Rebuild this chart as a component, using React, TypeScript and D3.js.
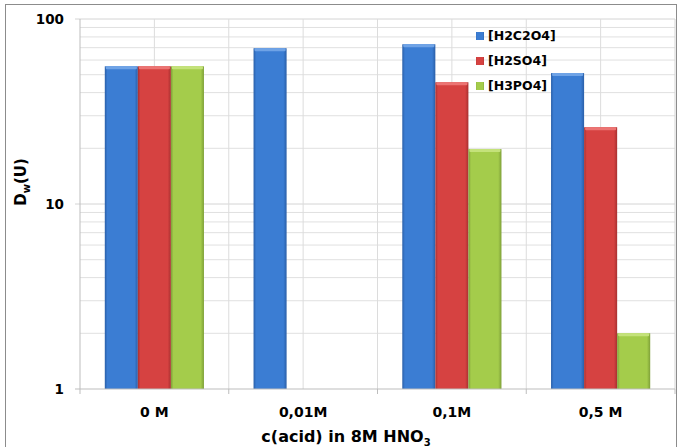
import React from "react";
import * as d3 from "d3";

const categories = ["0 M", "0,01M", "0,1M", "0,5 M"];
const seriesNames = ["[H2C2O4]", "[H2SO4]", "[H3PO4]"];
const h2c2o4 = [55.5, 69.5, 73, 51];
const h2so4 = [55.5, null, 45.5, 26];
const h3po4 = [55.5, null, 19.8, 2.0];
const yTicks = [1, 10, 100];

const colors = ["#3b7dd3", "#d64241", "#a4cc4b"];
const darks = ["#2a5fa8", "#a83030", "#7ea038"];
const lights = ["#6fa3e6", "#ec7473", "#c4e27a"];

const W = 679;
const H = 447;
const left = 80;
const right = 675;
const top = 19;
const bottom = 389;

export default function App() {
  const values = [h2c2o4, h2so4, h3po4];
  const x0 = d3.scaleBand<string>().domain(categories).range([left, right]).padding(0);
  const x1 = d3
    .scaleBand<string>()
    .domain(seriesNames)
    .range([0, x0.bandwidth()])
    .paddingInner(0)
    .paddingOuter(0.75);
  const y = d3.scaleLog().domain([1, 100]).range([bottom, top]);

  const minor: number[] = [];
  [1, 10].forEach((dec) => {
    for (let k = 2; k <= 9; k++) minor.push(k * dec);
  });

  const vGrid: number[] = [];
  categories.forEach((c, i) => {
    vGrid.push(x0(c)! + x0.bandwidth() / 2);
    if (i > 0) vGrid.push(x0(c)!);
  });

  const font = "'DejaVu Sans', Arial, sans-serif";

  return (
    <svg width={W} height={H} style={{ position: "absolute", left: 0, top: 0, background: "#fff" }}>
      <defs>
        {colors.map((c, i) => (
          <linearGradient key={i} id={`g${i}`} x1="0" x2="1" y1="0" y2="0">
            <stop offset="0%" stopColor={darks[i]} />
            <stop offset="8%" stopColor={c} />
            <stop offset="45%" stopColor={c} />
            <stop offset="90%" stopColor={c} />
            <stop offset="100%" stopColor={darks[i]} />
          </linearGradient>
        ))}
      </defs>
      <rect x={5.5} y={4.5} width={671} height={450} fill="#fff" stroke="#8c8c8c" strokeWidth={1} />

      {/* gridlines */}
      {minor.map((v) => (
        <line key={`m${v}`} x1={left} x2={right} y1={y(v)} y2={y(v)} stroke="#e0e0e0" strokeWidth={1} />
      ))}
      {[10, 100].map((v) => (
        <line key={`M${v}`} x1={left - 5} x2={right} y1={y(v)} y2={y(v)} stroke="#d4d4d4" strokeWidth={1} />
      ))}
      {vGrid.map((gx) => (
        <line key={`v${gx}`} x1={gx} x2={gx} y1={top} y2={bottom} stroke="#dcdcdc" strokeWidth={1} />
      ))}
      <line x1={right} x2={right} y1={top} y2={bottom} stroke="#d4d4d4" />

      {/* bars */}
      {values.map((vals, si) =>
        vals.map((v, ci) => {
          if (v == null) return null;
          const bx = x0(categories[ci])! + x1(seriesNames[si])!;
          const bw = x1.bandwidth();
          const by = y(v);
          return (
            <g key={`${si}-${ci}`}>
              <rect x={bx} y={by} width={bw} height={bottom - by} fill={`url(#g${si})`} />
              <rect x={bx + 1} y={by} width={bw - 2} height={3} fill={lights[si]} rx={1} />
            </g>
          );
        })
      )}

      {/* axes */}
      <line x1={left} x2={left} y1={top} y2={bottom} stroke="#bdbdbd" />
      <line x1={left - 5} x2={right} y1={bottom} y2={bottom} stroke="#bdbdbd" />
      {categories.map((c, i) => (
        <line key={`t${i}`} x1={x0(c)!} x2={x0(c)!} y1={bottom} y2={bottom + 5} stroke="#bdbdbd" />
      ))}
      <line x1={right} x2={right} y1={bottom} y2={bottom + 5} stroke="#bdbdbd" />

      {yTicks.map((t) => (
        <text
          key={`yt${t}`}
          x={left - 16}
          y={y(t)}
          dy="0.35em"
          textAnchor="end"
          fontFamily={font}
          fontWeight="bold"
          fontSize={13.5}
          fill="#000"
        >
          {t}
        </text>
      ))}
      {categories.map((c) => (
        <text
          key={`xl${c}`}
          x={x0(c)! + x0.bandwidth() / 2}
          y={417}
          textAnchor="middle"
          fontFamily={font}
          fontWeight="bold"
          fontSize={14}
          fill="#000"
        >
          {c}
        </text>
      ))}

      <text x={346} y={442} textAnchor="middle" fontFamily={font} fontWeight="bold" fontSize={16}>
        c(acid) in 8M HNO
        <tspan dy="4" fontSize={10}>3</tspan>
      </text>

      <text
        transform="translate(26,182) rotate(-90)"
        textAnchor="middle"
        fontFamily={font}
        fontWeight="bold"
        fontSize={15}
      >
        D<tspan dy="4" fontSize={10}>w</tspan>
        <tspan dy="-4">(U)</tspan>
      </text>

      {/* legend */}
      {seriesNames.map((s, i) => (
        <g key={`lg${s}`} transform={`translate(480,${36 + i * 25})`}>
          <rect x={-4} y={-4} width={8} height={8} fill={`url(#g${i})`} />
          <text x={8} y={0} dy="0.35em" fontFamily={font} fontWeight="bold" fontSize={12.5}>
            {s}
          </text>
        </g>
      ))}
    </svg>
  );
}
